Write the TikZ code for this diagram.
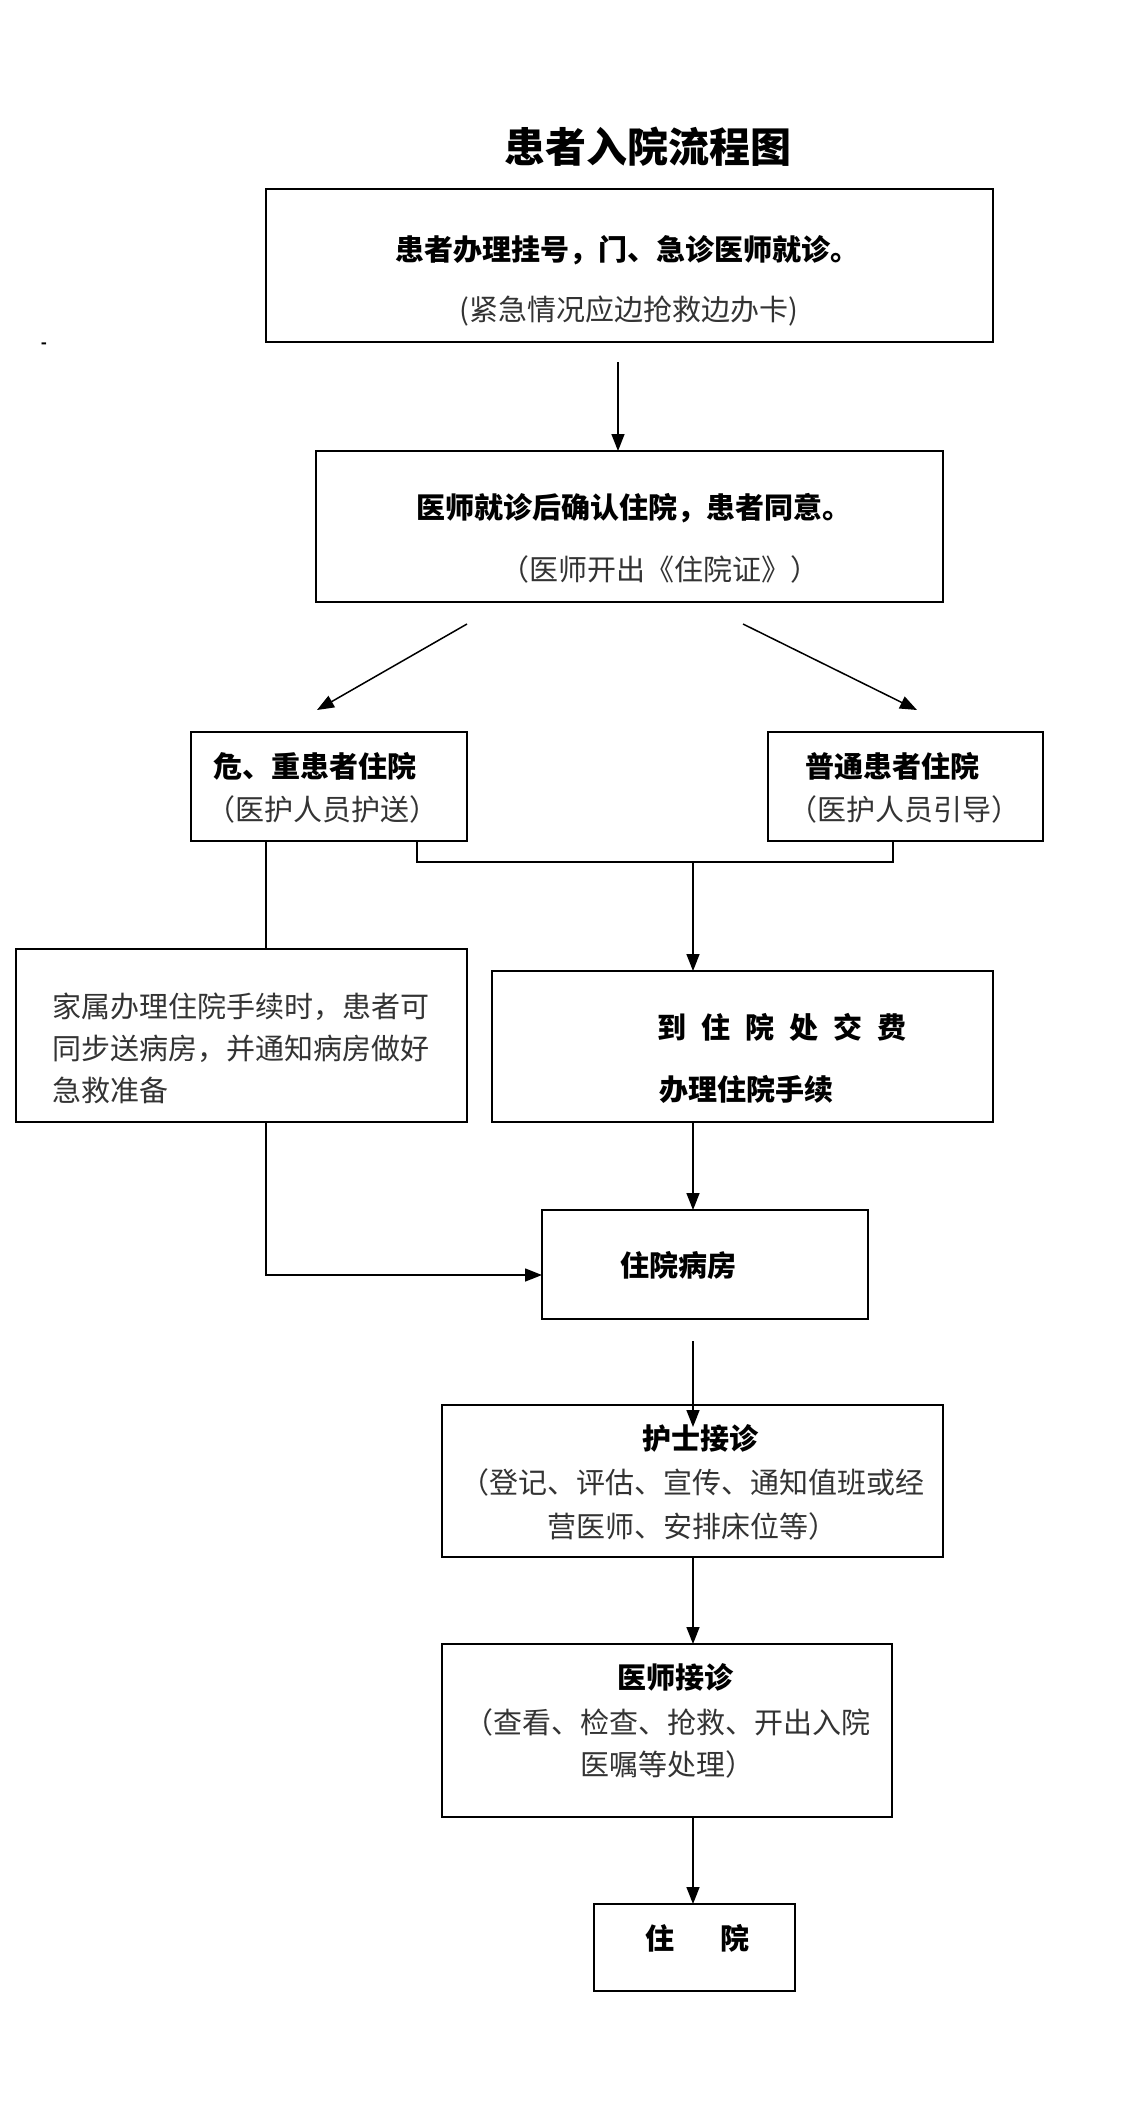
\documentclass[tikz,border=0pt]{standalone}
\usepackage{fontspec}
\setmainfont{Noto Sans CJK SC}
\usetikzlibrary{arrows.meta}
\begin{document}
\begin{tikzpicture}[x=1pt,y=-1pt,
  box/.style={draw, line width=1.8pt, rectangle, inner sep=0pt, outer sep=0pt},
  conn/.style={line width=1.5pt},
  arr/.style={conn, -{Triangle[length=17pt,width=13pt]}},
  txt/.style={inner sep=0pt, font=\fontsize{29}{29}\selectfont, text=black!80, text height=0.88em, text depth=0.12em},
  btxt/.style={txt, font=\fontsize{29}{29}\selectfont\bfseries, text=black}]
\fill[white] (0,0) rectangle (1125,2101);
\useasboundingbox (0,0) rectangle (1125,2101);

% title
\node[btxt, font=\fontsize{41}{41}\selectfont\bfseries] (title) at (648,159) {患者入院流程图};
\node[inner sep=0pt, font=\fontsize{16}{16}\selectfont\bfseries] (dash) at (44,346) {-};

% boxes
\node[box, minimum width=727pt, minimum height=153pt] (b1) at (629.5,265.5) {};
\node[box, minimum width=627pt, minimum height=151pt] (b2) at (629.5,526.5) {};
\node[box, minimum width=276pt, minimum height=109pt] (b3) at (329,786.5) {};
\node[box, minimum width=275pt, minimum height=109pt] (b4) at (905.5,786.5) {};
\node[box, minimum width=451pt, minimum height=173pt] (b5) at (241.5,1035.5) {};
\node[box, minimum width=501pt, minimum height=151pt] (b6) at (742.5,1046.5) {};
\node[box, minimum width=326pt, minimum height=109pt] (b7) at (705,1264.5) {};
\node[box, minimum width=501pt, minimum height=152pt] (b8) at (692.5,1481) {};
\node[box, minimum width=450pt, minimum height=173pt] (b9) at (667,1730.5) {};
\node[box, minimum width=201pt, minimum height=87pt] (b10) at (694.5,1947.5) {};

% texts
\node[btxt] (t1a) at (627,257) {患者办理挂号，门、急诊医师就诊。};
\node[txt] (t1b) at (629,317) {(紧急情况应边抢救边办卡)};
\node[btxt] (t2a) at (634,515) {医师就诊后确认住院，患者同意。};
\node[txt] (t2b) at (660,577) {（医师开出《住院证》）};
\node[btxt] (t3a) at (315,774) {危、重患者住院};
\node[txt] (t3b) at (322,817) {（医护人员护送）};
\node[btxt] (t4a) at (892,774) {普通患者住院};
\node[txt] (t4b) at (904,817) {（医护人员引导）};
\node[txt, anchor=west] (t5a) at (52,1014) {家属办理住院手续时，患者可};
\node[txt, anchor=west] (t5b) at (52,1056) {同步送病房，并通知病房做好};
\node[txt, anchor=west] (t5c) at (52,1098) {急救准备};
\node[btxt] (t6a) at (782,1035) {到\hspace{15pt}住\hspace{15pt}院\hspace{15pt}处\hspace{15pt}交\hspace{15pt}费};
\node[btxt] (t6b) at (746,1097) {办理住院手续};
\node[btxt] (t7) at (678,1273) {住院病房};
\node[btxt] (t8a) at (700,1446) {护士接诊};
\node[txt] (t8b) at (692,1490) {（登记、评估、宣传、通知值班或经};
\node[txt] (t8c) at (692,1534) {营医师、安排床位等）};
\node[btxt] (t9a) at (675,1685) {医师接诊};
\node[txt] (t9b) at (667,1730) {（查看、检查、抢救、开出入院};
\node[txt] (t9c) at (667,1772) {医嘱等处理）};
\node[btxt] (t10) at (697,1946) {住\hspace{46pt}院};

% connector coordinates
\coordinate (a1s) at (618,362);
\coordinate (dls) at (467,624);
\coordinate (dle) at (317,710);
\coordinate (drs) at (743,624);
\coordinate (dre) at (917,710);
\coordinate (jl) at (417,862);
\coordinate (jr) at (893,862);
\coordinate (jm) at (693,862);
\coordinate (lx) at (266,1275);
\coordinate (a7s) at (693,1341);
\coordinate (a7e) at (693,1427);

% connectors
\draw[arr] (a1s) -- (a1s |- b2.north);
\draw[arr] (dls) -- (dle);
\draw[arr] (drs) -- (dre);
\draw[conn] (jl |- b3.south) -- (jl) -- (jr) -- (jr |- b4.south);
\draw[arr] (jm) -- (jm |- b6.north);
\draw[conn] (lx |- b3.south) -- (lx |- b5.north);
\draw[arr] (lx |- b5.south) -- (lx) -- (lx -| b7.west);
\draw[arr] (jm |- b6.south) -- (jm |- b7.north);
\draw[arr] (a7s) -- (a7e);
\draw[arr] (jm |- b8.south) -- (jm |- b9.north);
\draw[arr] (jm |- b9.south) -- (jm |- b10.north);
\end{tikzpicture}
\end{document}
